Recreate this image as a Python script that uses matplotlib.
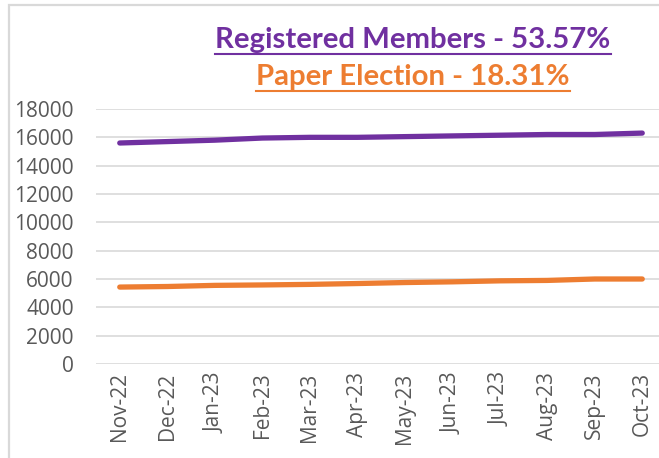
import matplotlib
matplotlib.use("Agg")
import matplotlib.pyplot as plt
from matplotlib.patches import Rectangle

months = ["Nov-22", "Dec-22", "Jan-23", "Feb-23", "Mar-23", "Apr-23",
          "May-23", "Jun-23", "Jul-23", "Aug-23", "Sep-23", "Oct-23"]
registered = [15600, 15700, 15800, 15950, 16000, 16000, 16050, 16100, 16150, 16200, 16200, 16300]
paper = [5430, 5470, 5550, 5580, 5620, 5680, 5750, 5800, 5870, 5900, 6000, 6000]
yticks = [0, 2000, 4000, 6000, 8000, 10000, 12000, 14000, 16000, 18000]
title1 = "Registered Members - 53.57%"
title2 = "Paper Election - 18.31%"

W, H = 659, 458
fig = plt.figure(figsize=(W / 100, H / 100), dpi=100)
fig.patch.set_facecolor("white")

# chart border
fig.add_artist(Rectangle((8.5 / W, -0.1), 1.2, (H - 5.5) / H + 0.1,
                         transform=fig.transFigure, fill=False,
                         edgecolor="#D9D9D9", linewidth=1.6))

ax = fig.add_axes([96 / W, 94 / H, 570 / W, 255 / H])
x = list(range(len(months)))
ax.plot(x, registered, color="#7030A0", linewidth=3.8, solid_capstyle="round", zorder=3)
ax.plot(x, paper, color="#ED7D31", linewidth=3.8, solid_capstyle="round", zorder=3)

ax.set_xlim(-0.5, len(months) - 0.5)
ax.set_ylim(0, 18000)
ax.set_yticks(yticks)
ax.set_yticklabels([str(v) for v in yticks], fontsize=15, color="#595959", family="Open Sans")
ax.set_xticks(x)
ax.set_xticklabels(months, rotation=90, fontsize=15, color="#595959", family="Open Sans")
ax.tick_params(axis="y", length=0, pad=16)
ax.tick_params(axis="x", length=0, pad=6)
ax.grid(axis="y", color="#D9D9D9", linewidth=1.2)
ax.set_axisbelow(True)
for s in ax.spines.values():
    s.set_visible(False)

fig.text(413 / W, 1 - 40 / H, title1, ha="center", va="center", fontsize=21.2,
         fontweight="bold", color="#7030A0", family="Lato")
fig.text(413 / W, 1 - 77 / H, title2, ha="center", va="center", fontsize=21.2,
         fontweight="bold", color="#ED7D31", family="Lato")

fig.canvas.draw()
renderer = fig.canvas.get_renderer()
for t, c in [(fig.texts[0], "#7030A0"), (fig.texts[1], "#ED7D31")]:
    bb = t.get_window_extent(renderer)
    yline = bb.y0 - 1
    fig.add_artist(plt.Line2D([bb.x0 / W, bb.x1 / W], [yline / H, yline / H],
                              transform=fig.transFigure, color=c, linewidth=1.5))

fig.savefig("out.png", dpi=100)
